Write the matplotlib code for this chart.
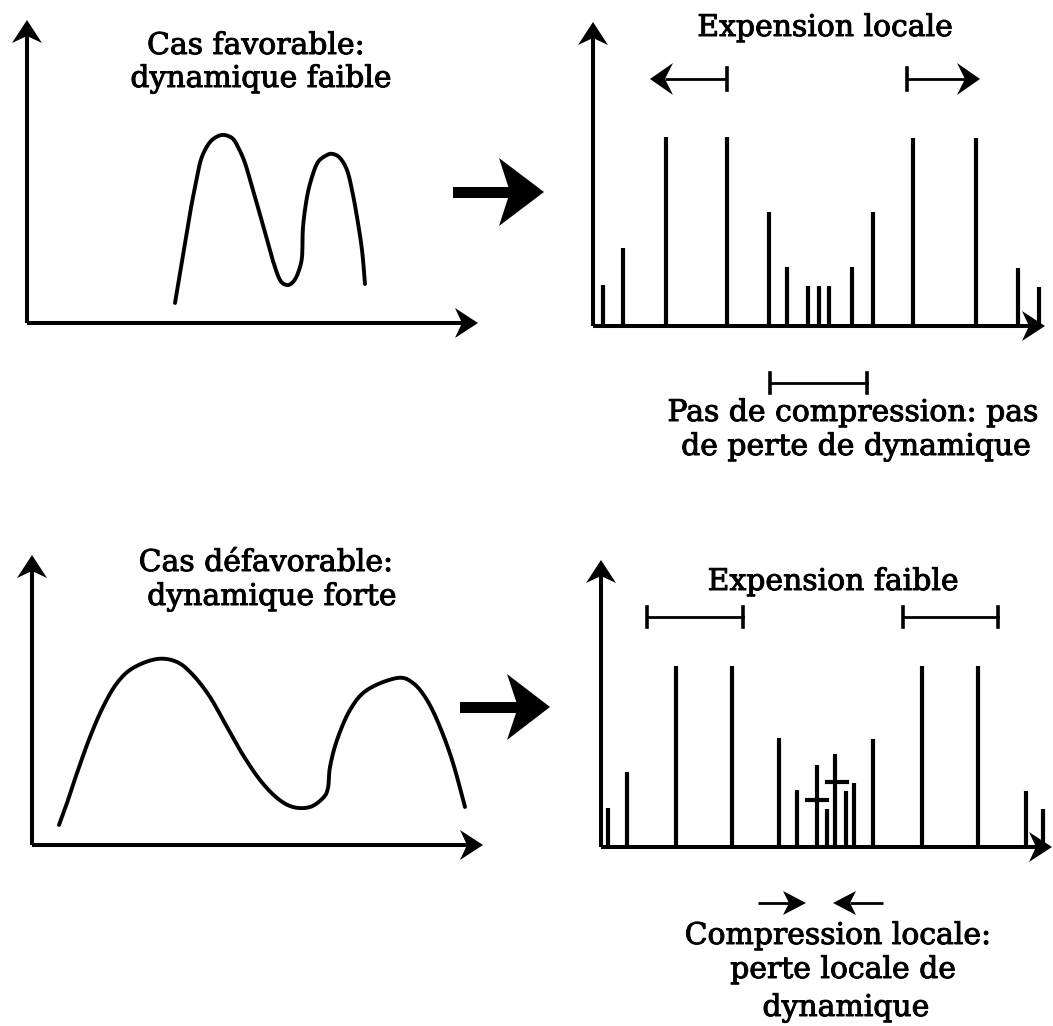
import numpy as np
import matplotlib
matplotlib.use("Agg")
import matplotlib.pyplot as plt
from matplotlib.patches import Polygon
import matplotlib.patheffects as pe

# --- data (pixels, relative to each panel's origin) ---

# top-left: smooth curve, low dynamic range
curve_top_x = [148, 153, 158, 163, 168, 173, 178, 185, 195, 205, 211, 218, 225, 232,
               239, 246, 253, 260, 266, 271, 275, 276, 280, 285, 291, 300, 306, 313,
               320, 325, 330, 335, 338]
curve_top_y = [20, 50, 80, 110, 136, 160, 173, 183, 188, 185, 176, 160, 136, 112,
               87, 62, 43, 38, 41, 50, 66, 96, 126, 146, 161, 168, 169, 165,
               153, 133, 106, 73, 39]

# bottom-left: smooth curve, high dynamic range
curve_bot_x = [27, 35, 45, 58, 71, 85, 101, 125, 145, 161, 178, 195, 211, 228, 245,
               261, 278, 291, 296, 298, 305, 318, 335, 365, 381, 395, 408, 421, 433]
curve_bot_y = [20, 42, 72, 108, 138, 162, 177, 186, 183, 170, 148, 118, 90, 65, 47,
               38, 38, 47, 57, 78, 105, 135, 155, 167, 162, 145, 118, 82, 38]

# top-right: spectrum lines after local expansion
bars_top_x = [10, 30, 73, 134, 176, 194, 215, 226, 236, 259, 280, 320, 383, 425, 446]
bars_top_h = [41, 78, 189, 189, 114, 59, 40, 40, 40, 59, 114, 188, 188, 58, 39]

# bottom-right: spectrum lines, compressed in the middle
bars_bot_x = [7, 26, 75, 131, 178, 196, 216, 226, 234, 245, 253, 272, 321, 377, 425, 442]
bars_bot_h = [39, 75, 181, 181, 109, 57, 82, 38, 93, 56, 64, 108, 181, 181, 56, 38]
cross_x = [216, 236]
cross_y = [47, 65]

FONT = "DejaVu Serif"
FS = 21.5
LW_AXIS = 2.9
LW_BAR = 3.0
LW_CURVE = 2.8
LW_ANN = 2.0

fig = plt.figure(figsize=(10.53, 10.26), dpi=100)
W, H = 1053, 1026


def panel(ox, oy):
    # full-figure axes, 1 data unit = 1 pixel, origin at (ox, oy) of the picture
    ax = fig.add_axes([0, 0, 1, 1])
    ax.set_xlim(-ox, W - ox)
    ax.set_ylim(oy - H, oy)
    ax.axis("off")
    ax.patch.set_alpha(0)
    return ax


def smooth(xs, ys, k=8):
    # catmull-rom through the read points, only for drawing a smooth stroke
    p = np.column_stack([xs, ys]).astype(float)
    p = np.vstack([p[0], p, p[-1]])
    out = []
    t = np.linspace(0, 1, k, endpoint=False)[:, None]
    for i in range(1, len(p) - 2):
        p0, p1, p2, p3 = p[i - 1], p[i], p[i + 1], p[i + 2]
        out.append(0.5 * (2 * p1 + (p2 - p0) * t + (2 * p0 - 5 * p1 + 4 * p2 - p3) * t ** 2
                          + (3 * p1 - p0 - 3 * p2 + p3) * t ** 3))
    out.append(p[-2][None, :])
    out = np.vstack(out)
    return out[:, 0], out[:, 1]


def head(ax, tip, d, length, hw, notch):
    tip = np.array(tip, float)
    d = np.array(d, float)
    n = np.array([-d[1], d[0]])
    pts = [tip,
           tip - d * length + n * hw,
           tip - d * (length - notch),
           tip - d * length - n * hw]
    ax.add_patch(Polygon(pts, closed=True, color="black", lw=0))


def arrow(ax, x0, y0, x1, y1, lw, length, hw, notch):
    d = np.array([x1 - x0, y1 - y0], float)
    d /= np.hypot(*d)
    end = np.array([x1, y1]) - d * (length - notch)
    ax.plot([x0, end[0]], [y0, end[1]], color="black", lw=lw, solid_capstyle="butt")
    head(ax, (x1, y1), d, length, hw, notch)


def axes_lines(ax, xtip, ytip):
    arrow(ax, 0, 0, xtip, 0, LW_AXIS, 23, 15, 7)
    arrow(ax, 0, 0, 0, ytip, LW_AXIS, 23, 15, 7)


def span(ax, x0, x1, y, tick=10):
    ax.plot([x0, x1], [y, y], color="black", lw=LW_ANN)
    ax.plot([x0, x0], [y - tick, y + tick], color="black", lw=LW_ANN + 0.6)
    ax.plot([x1, x1], [y - tick, y + tick], color="black", lw=LW_ANN + 0.6)


def big_arrow(ax, x0, x1, y, tip, back, hw):
    ax.add_patch(Polygon([(x0, y - 5.5), (x1 + 2, y - 5.5), (x1 + 2, y + 5.5), (x0, y + 5.5)],
                         closed=True, color="black", lw=0))
    head(ax, (tip, y), (1, 0), tip - back, hw, x1 - back)


def label(ax, x, y, s):
    ax.text(x, y, s, ha="center", va="center", family=FONT, fontsize=FS,
            path_effects=[pe.withStroke(linewidth=0.7, foreground="black")])


# top-left panel
ax1 = panel(27, 323)
axes_lines(ax1, 451, 303)
ax1.plot(*smooth(curve_top_x, curve_top_y), color="black", lw=LW_CURVE,
         solid_joinstyle="round", solid_capstyle="round")
label(ax1, 229, 277, "Cas favorable:")
label(ax1, 234, 244, "dynamique faible")
big_arrow(ax1, 426, 483, 131, 517, 472, 34)

# top-right panel
ax2 = panel(593, 326)
axes_lines(ax2, 452, 304)
ax2.vlines(bars_top_x, 0, bars_top_h, color="black", lw=LW_BAR)
label(ax2, 232, 298, "Expension locale")
ax2.plot([134, 134], [236, 258], color="black", lw=LW_ANN + 0.6)
arrow(ax2, 134, 247, 57, 247, LW_ANN, 23, 16, 8)
ax2.plot([314, 314], [236, 258], color="black", lw=LW_ANN + 0.6)
arrow(ax2, 314, 247, 387, 247, LW_ANN, 23, 16, 8)
span(ax2, 177, 274, -57)
label(ax2, 260, -87, "Pas de compression: pas")
label(ax2, 263, -121, "de perte de dynamique")

# bottom-left panel
ax3 = panel(32, 845)
axes_lines(ax3, 451, 290)
ax3.plot(*smooth(curve_bot_x, curve_bot_y), color="black", lw=LW_CURVE,
         solid_joinstyle="round", solid_capstyle="round")
label(ax3, 234, 282, "Cas défavorable:")
label(ax3, 240, 248, "dynamique forte")
big_arrow(ax3, 428, 486, 138, 518, 475, 33)

# bottom-right panel
ax4 = panel(601, 847)
axes_lines(ax4, 451, 287)
ax4.vlines(bars_bot_x, 0, bars_bot_h, color="black", lw=LW_BAR)
for cx, cy in zip(cross_x, cross_y):
    ax4.plot([cx - 10, cx + 10], [cy, cy], color="black", lw=LW_BAR)
label(ax4, 232, 265, "Expension faible")
span(ax4, 46, 142, 230)
span(ax4, 302, 397, 230)
arrow(ax4, 157, -56, 205, -56, LW_ANN, 23, 12, 6)
arrow(ax4, 282, -56, 232, -56, LW_ANN, 23, 12, 6)
label(ax4, 237, -89, "Compression locale:")
label(ax4, 242, -123, "perte locale de")
label(ax4, 245, -161, "dynamique")

fig.savefig("out.png", dpi=100, facecolor="white")
